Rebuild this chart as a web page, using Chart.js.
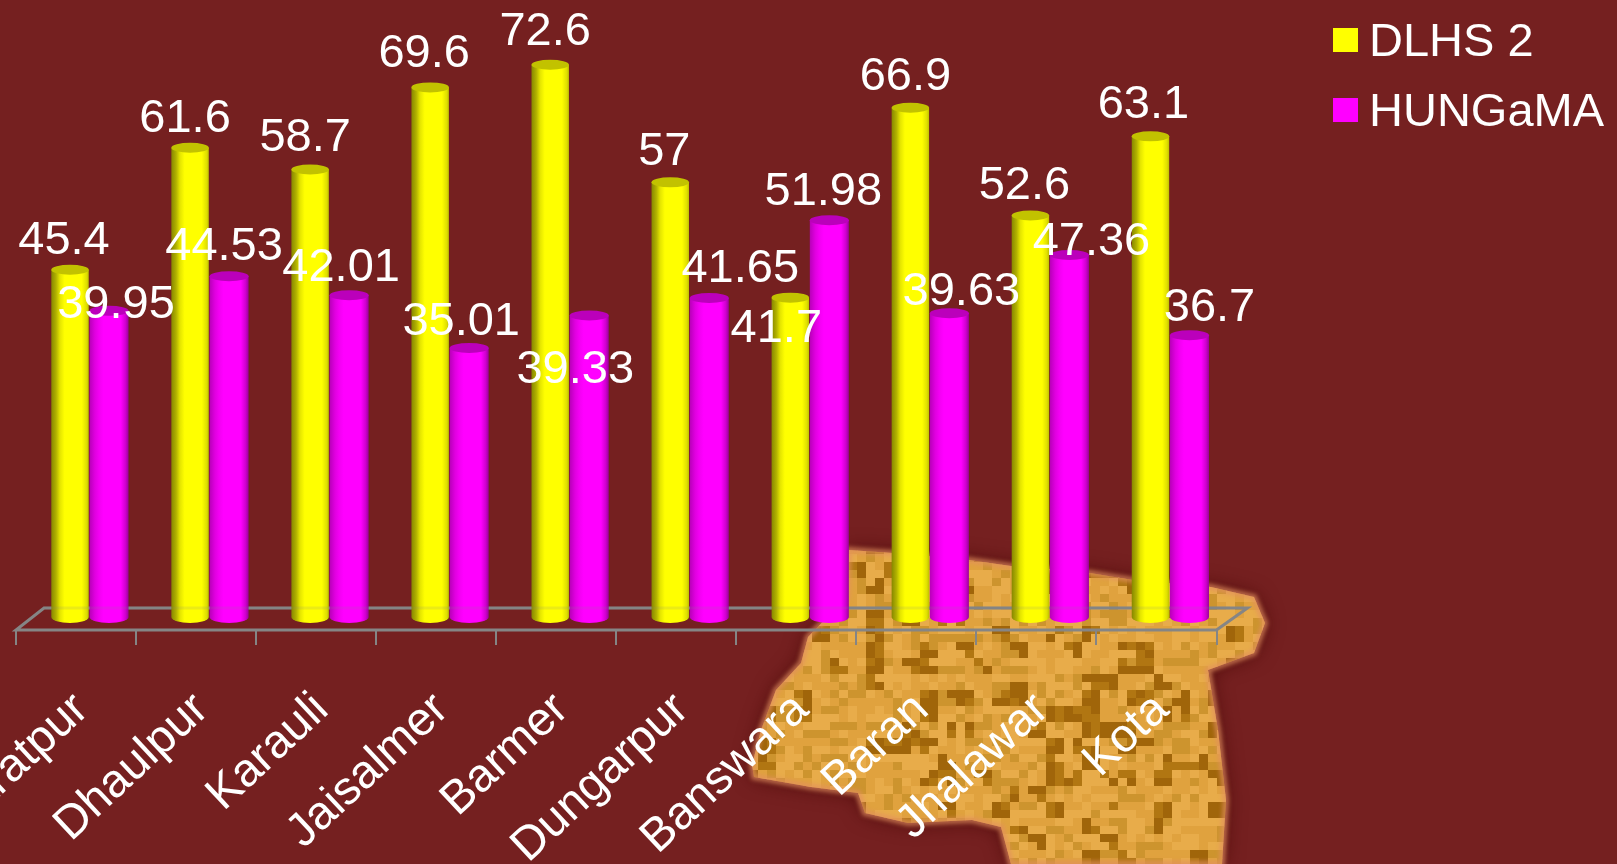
<!DOCTYPE html>
<html>
<head>
<meta charset="utf-8">
<title>DLHS 2 and HUNGaMA by district</title>
<script src="https://cdn.jsdelivr.net/npm/chart.js@4"></script>
<style>
  html, body { margin: 0; padding: 0; background: #752020; overflow: hidden; }
  canvas { display: block; }
</style>
</head>
<body>
<canvas id="chart" width="1617" height="864"></canvas>
<script>
const districts = ['Bharatpur', 'Dhaulpur', 'Karauli', 'Jaisalmer', 'Barmer', 'Dungarpur', 'Banswara', 'Baran', 'Jhalawar', 'Kota'];
const dlhs = [45.4, 61.6, 58.7, 69.6, 72.6, 57, 41.7, 66.9, 52.6, 63.1];
const hungama = [39.95, 44.53, 42.01, 35.01, 39.33, 41.65, 51.98, 39.63, 47.36, 36.7];

// hand placed value labels, offset from the top of each bar
const dlhsShiftX = [-6, -5, -5, -6, -5, -6, -14, -5, -6, -7];
const dlhsShiftY = [-29, -29, -31, -33, -33, -30, 31, -31, -29, -31];
const hungamaShiftX = [7, -5, -8, -8, -14, 31, -6, 12, 22, 20];
const hungamaShiftY = [-6, -29, -27, -26, 55, -29, -28, -21, -13, -27];

const font = '"Liberation Sans", Arial, sans-serif';
const groupShare = 0.65;

// outline of the state map sitting behind the chart
const mapOutline = [
  [849, 550], [893, 553], [969, 560], [1011, 566], [1090, 573], [1133, 580], [1211, 587], [1254, 597],
  [1265, 623], [1254, 653], [1208, 670], [1218, 730], [1226, 800], [1222, 864], [1011, 864], [1001, 827],
  [972, 820], [908, 823], [865, 813], [858, 793], [811, 787], [754, 777], [752, 765], [761, 730],
  [776, 690], [801, 663], [808, 637], [847, 597]
];

function cellNoise(i, j) {
  let n = Math.imul(i, 374761393) + Math.imul(j, 668265263);
  n = Math.imul(n ^ (n >>> 13), 1274126177);
  return ((n ^ (n >>> 16)) >>> 0) % 100;
}

function cellShade(i, j) {
  const blob = cellNoise(i >> 1, (j >> 1) + 500);
  const fine = cellNoise(i, j);
  if (blob < 24 && fine % 4 !== 0) return fine % 2 ? '#a0650a' : '#b17612';
  if (fine < 22) return '#cd942e';
  if (fine < 62) return '#e0a23e';
  return '#e8ac4a';
}

const backdrop = {
  id: 'backdrop',
  beforeDraw(chart) {
    const c = chart.ctx;
    c.save();
    c.fillStyle = '#752020';
    c.fillRect(0, 0, chart.width, chart.height);

    const outline = () => {
      c.beginPath();
      mapOutline.forEach((p, n) => (n ? c.lineTo(p[0], p[1]) : c.moveTo(p[0], p[1])));
      c.closePath();
    };

    // dark halo close to the map
    c.save();
    c.shadowColor = '#4a0806';
    c.shadowBlur = 20;
    c.fillStyle = '#a8622e';
    outline();
    c.fill();
    c.restore();

    // blocky mottled fill
    c.save();
    outline();
    c.clip();
    c.filter = 'blur(0.7px)';
    for (let i = 0; i < 62; i++) {
      for (let j = 0; j < 42; j++) {
        c.fillStyle = cellShade(i, j);
        c.fillRect(740 + i * 9, 530 + j * 8, 9.5, 8.5);
      }
    }
    c.restore();

    c.save();
    c.filter = 'blur(2px)';
    c.strokeStyle = 'rgba(226,142,96,0.7)';
    c.lineWidth = 6;
    outline();
    c.stroke();
    c.restore();
    c.restore();
  }
};

// floor of the 3D box and its tick marks
const floor = {
  id: 'floor',
  beforeDatasetsDraw(chart) {
    const c = chart.ctx;
    const area = chart.chartArea;
    const x = chart.scales.x;
    const step = (area.right - area.left) / districts.length;
    const frontLeft = area.left - 13.5;
    const frontRight = frontLeft + step * districts.length;
    c.save();
    c.strokeStyle = '#858585';
    c.lineWidth = 3;
    c.beginPath();
    c.moveTo(frontLeft + 28, 608);
    c.lineTo(frontRight + 31, 608);
    c.lineTo(frontRight, 630);
    c.lineTo(frontLeft, 630);
    c.closePath();
    c.stroke();
    c.lineWidth = 2;
    c.beginPath();
    for (let i = 0; i <= districts.length; i++) {
      const tx = Math.round(x.getPixelForValue(0) - step / 2 - 13.5 + i * step);
      c.moveTo(tx, 630);
      c.lineTo(tx, 645);
    }
    c.stroke();
    c.restore();
  },
  afterDatasetsDraw(chart) {
    // the back edge shows faintly through the cylinders
    const c = chart.ctx;
    const area = chart.chartArea;
    c.save();
    c.strokeStyle = 'rgba(133,133,133,0.16)';
    c.lineWidth = 3;
    c.beginPath();
    c.moveTo(area.left + 14, 608);
    c.lineTo(area.right, 608);
    c.stroke();
    c.restore();
  }
};

// round caps on the bars, so they read as cylinders
const cylinderCaps = {
  id: 'cylinderCaps',
  afterDatasetDraw(chart, args) {
    const c = chart.ctx;
    const capColor = args.index === 0 ? '#c2c200' : '#bb00bb';
    args.meta.data.forEach(bar => {
      const rx = bar.width / 2;
      c.save();
      c.fillStyle = bar.options.backgroundColor;
      c.beginPath();
      c.ellipse(bar.x, bar.base, rx, 6, 0, 0, Math.PI);
      c.fill();
      c.fillStyle = capColor;
      c.beginPath();
      c.ellipse(bar.x, bar.y, rx, 5, 0, 0, Math.PI * 2);
      c.fill();
      c.restore();
    });
  }
};

const valueLabels = {
  id: 'valueLabels',
  afterDatasetsDraw(chart) {
    const c = chart.ctx;
    const shifts = [[dlhsShiftX, dlhsShiftY], [hungamaShiftX, hungamaShiftY]];
    c.save();
    c.font = '47px ' + font;
    c.fillStyle = '#ffffff';
    c.textAlign = 'center';
    c.textBaseline = 'middle';
    chart.data.datasets.forEach((ds, d) => {
      chart.getDatasetMeta(d).data.forEach((bar, i) => {
        c.fillText(String(ds.data[i]), bar.x + shifts[d][0][i], bar.y + shifts[d][1][i]);
      });
    });
    c.restore();
  }
};

const cornerLegend = {
  id: 'cornerLegend',
  afterDraw(chart) {
    const c = chart.ctx;
    c.save();
    c.font = '47px ' + font;
    c.textAlign = 'left';
    c.textBaseline = 'middle';
    chart.data.datasets.forEach((ds, d) => {
      const rowY = 40 + d * 70;
      c.fillStyle = ds.legendColor;
      c.fillRect(1333, rowY - 12, 25, 24);
      c.fillStyle = '#ffffff';
      c.fillText(ds.label, 1369, rowY + 3);
    });
    c.restore();
  }
};

function barFill(leftEdge, leftMid, leftSoft, full, rightSoft, rightEdge) {
  return function (ctx) {
    const chart = ctx.chart;
    const xScale = chart.scales.x;
    // options get resolved once before the layout has run
    if (!chart.chartArea || !xScale) return full;
    const slot = (chart.chartArea.right - chart.chartArea.left) / districts.length * groupShare / 2;
    const cx = xScale.getPixelForValue(ctx.dataIndex) + (ctx.datasetIndex === 0 ? -slot / 2 : slot / 2);
    const half = slot / 2;
    const g = chart.ctx.createLinearGradient(cx - half, 0, cx + half, 0);
    g.addColorStop(0, leftEdge);
    g.addColorStop(0.14, leftMid);
    g.addColorStop(0.24, leftSoft);
    g.addColorStop(0.36, full);
    g.addColorStop(0.8, full);
    g.addColorStop(0.92, rightSoft);
    g.addColorStop(1, rightEdge);
    return g;
  };
}

new Chart(document.getElementById('chart'), {
  type: 'bar',
  data: {
    labels: districts,
    datasets: [
      {
        label: 'DLHS 2',
        data: dlhs,
        legendColor: '#ffff00',
        backgroundColor: barFill('#808000', '#b0b000', '#e4e400', '#ffff00', '#e0e000', '#b4b400'),
        base: -0.66,
        barPercentage: 0.96,
        categoryPercentage: groupShare
      },
      {
        label: 'HUNGaMA',
        data: hungama,
        legendColor: '#ff00ff',
        backgroundColor: barFill('#b800b8', '#e000e0', '#f200f2', '#ff00ff', '#d000d0', '#9c009c'),
        base: -0.66,
        barPercentage: 1,
        categoryPercentage: groupShare
      }
    ]
  },
  options: {
    responsive: false,
    animation: false,
    layout: { padding: { left: 29.5, right: 387, top: 9, bottom: 0 } },
    plugins: {
      legend: { display: false },
      tooltip: { enabled: false },
      title: { display: false }
    },
    scales: {
      x: {
        grid: { display: false },
        border: { display: false },
        afterFit(scale) {
          scale.height = 237;
          scale.paddingLeft = 0;
          scale.paddingRight = 0;
        },
        ticks: {
          autoSkip: false,
          maxRotation: 43,
          minRotation: 43,
          padding: 47,
          labelOffset: -8,
          color: '#ffffff',
          font: { family: font, size: 47 }
        }
      },
      y: {
        display: false,
        min: -2,
        max: 80
      }
    }
  },
  plugins: [backdrop, floor, cylinderCaps, valueLabels, cornerLegend]
});
</script>
</body>
</html>
